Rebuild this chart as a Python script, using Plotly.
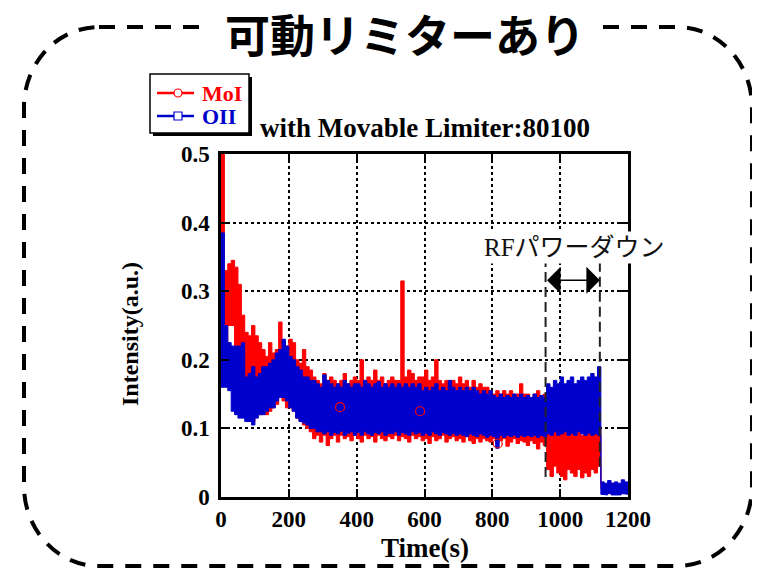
import plotly.graph_objects as go

# ---------------- data ----------------
TIME = list(range(0, 1200, 10))   # sample times (s)
STEP = 10

MOI_HI = [0.50, 0.33, 0.34, 0.345, 0.335, 0.31, 0.265, 0.24, 0.235, 0.25,
          0.235, 0.225, 0.215, 0.205, 0.225, 0.21, 0.215, 0.255, 0.225, 0.22,
          0.23, 0.225, 0.20, 0.195, 0.215, 0.19, 0.185, 0.175, 0.17, 0.165,
          0.18, 0.17, 0.175, 0.17, 0.165, 0.17, 0.18, 0.165, 0.17, 0.175,
          0.17, 0.20, 0.17, 0.175, 0.17, 0.185, 0.17, 0.175, 0.165, 0.17,
          0.175, 0.17, 0.17, 0.315, 0.175, 0.185, 0.18, 0.17, 0.175, 0.175,
          0.185, 0.17, 0.175, 0.20, 0.17, 0.165, 0.17, 0.165, 0.17, 0.165,
          0.175, 0.165, 0.17, 0.16, 0.17, 0.16, 0.165, 0.16, 0.16, 0.155,
          0.15, 0.155, 0.15, 0.155, 0.15, 0.155, 0.15, 0.15, 0.165, 0.15,
          0.15, 0.145, 0.15, 0.155, 0.145, 0.15, 0.10, 0.095, 0.10, 0.09,
          0.10, 0.095, 0.09, 0.10, 0.095, 0.105, 0.09, 0.10, 0.095, 0.10,
          0.095, 0.10, 0.02, 0.018, 0.02, 0.019, 0.02, 0.018, 0.02, 0.019]
MOI_LO = [0.20, 0.22, 0.25, 0.25, 0.20, 0.15, 0.13, 0.12, 0.12, 0.11,
          0.12, 0.12, 0.125, 0.12, 0.125, 0.13, 0.135, 0.145, 0.14, 0.13,
          0.13, 0.125, 0.115, 0.11, 0.105, 0.10, 0.095, 0.085, 0.09, 0.08,
          0.09, 0.075, 0.085, 0.09, 0.08, 0.09, 0.085, 0.088, 0.082, 0.09,
          0.085, 0.08, 0.09, 0.085, 0.088, 0.08, 0.09, 0.085, 0.082, 0.088,
          0.085, 0.09, 0.082, 0.088, 0.085, 0.08, 0.09, 0.085, 0.088, 0.082,
          0.085, 0.078, 0.088, 0.082, 0.085, 0.09, 0.08, 0.085, 0.088, 0.082,
          0.085, 0.08, 0.088, 0.082, 0.078, 0.085, 0.08, 0.085, 0.082, 0.08,
          0.085, 0.078, 0.082, 0.085, 0.074, 0.08, 0.085, 0.078, 0.082, 0.08,
          0.075, 0.082, 0.078, 0.07, 0.08, 0.075, 0.04, 0.03, 0.045, 0.035,
          0.03, 0.025, 0.04, 0.035, 0.03, 0.04, 0.028, 0.035, 0.03, 0.04,
          0.035, 0.045, 0.012, 0.014, 0.012, 0.015, 0.013, 0.014, 0.012, 0.015]
OII_HI = [0.385, 0.25, 0.225, 0.22, 0.22, 0.22, 0.225, 0.175, 0.18, 0.19,
          0.175, 0.18, 0.19, 0.19, 0.195, 0.20, 0.21, 0.215, 0.23, 0.22,
          0.205, 0.20, 0.19, 0.185, 0.175, 0.175, 0.17, 0.17, 0.165, 0.16,
          0.178, 0.17, 0.165, 0.16, 0.165, 0.16, 0.17, 0.165, 0.16, 0.165,
          0.165, 0.16, 0.17, 0.165, 0.16, 0.165, 0.168, 0.16, 0.165, 0.16,
          0.165, 0.16, 0.165, 0.16, 0.165, 0.16, 0.165, 0.16, 0.165, 0.155,
          0.16, 0.155, 0.16, 0.165, 0.155, 0.16, 0.155, 0.17, 0.16, 0.155,
          0.16, 0.155, 0.16, 0.155, 0.16, 0.155, 0.15, 0.155, 0.15, 0.155,
          0.148, 0.145, 0.15, 0.145, 0.148, 0.145, 0.15, 0.145, 0.15, 0.145,
          0.148, 0.145, 0.15, 0.145, 0.148, 0.145, 0.165, 0.16, 0.17, 0.165,
          0.175, 0.165, 0.17, 0.175, 0.165, 0.17, 0.175, 0.17, 0.175, 0.18,
          0.175, 0.19, 0.022, 0.02, 0.024, 0.02, 0.022, 0.02, 0.025, 0.022]
OII_LO = [0.16, 0.16, 0.155, 0.125, 0.12, 0.115, 0.115, 0.11, 0.11, 0.105,
          0.115, 0.12, 0.12, 0.125, 0.13, 0.13, 0.14, 0.145, 0.145, 0.14,
          0.13, 0.125, 0.115, 0.11, 0.108, 0.105, 0.10, 0.10, 0.095, 0.095,
          0.092, 0.095, 0.09, 0.094, 0.092, 0.096, 0.09, 0.093, 0.095, 0.09,
          0.094, 0.09, 0.095, 0.092, 0.09, 0.094, 0.092, 0.095, 0.09, 0.093,
          0.092, 0.095, 0.09, 0.094, 0.092, 0.09, 0.095, 0.092, 0.094, 0.09,
          0.093, 0.09, 0.095, 0.092, 0.09, 0.094, 0.092, 0.09, 0.093, 0.09,
          0.092, 0.09, 0.088, 0.092, 0.09, 0.088, 0.092, 0.09, 0.087, 0.09,
          0.088, 0.071, 0.09, 0.087, 0.09, 0.088, 0.09, 0.087, 0.09, 0.088,
          0.09, 0.088, 0.09, 0.087, 0.09, 0.088, 0.092, 0.09, 0.095, 0.09,
          0.092, 0.095, 0.09, 0.093, 0.09, 0.095, 0.092, 0.09, 0.093, 0.09,
          0.092, 0.09, 0.004, 0.003, 0.005, 0.003, 0.004, 0.003, 0.005, 0.004]

MOI_MARK_T = [351, 587, 816]
MOI_MARK_V = [0.131, 0.125, 0.078]

RF_START, RF_END = 957, 1117

X_TICKS = [0, 200, 400, 600, 800, 1000, 1200]
Y_TICKS = [0, 0.1, 0.2, 0.3, 0.4, 0.5]
Y_TICK_TEXT = ["0", "0.1", "0.2", "0.3", "0.4", "0.5"]

RED = "#ff0000"
BLUE = "#0000cc"
SERIF = "Liberation Serif, Times New Roman, serif"
CJK = "Noto Sans CJK JP"


def band(times, hi, lo):
    """Closed step-shaped band: each sample spans one STEP between its max and min."""
    xs, ys = [], []
    for t, h in zip(times, hi):
        xs += [t, t + STEP]
        ys += [h, h]
    for t, l in zip(reversed(times), reversed(lo)):
        xs += [t + STEP, t]
        ys += [l, l]
    return xs, ys


# screen pixel -> paper helpers (page body has an 8px margin)
BODY = 8
PL, PR, PT, PB = 221, 628, 154, 497


def px(x):
    return (x - PL) / (PR - PL)


def py(y):
    return (PB - y) / (PB - PT)


fig = go.Figure()

mx, my = band(TIME, MOI_HI, MOI_LO)
ox, oy = band(TIME, OII_HI, OII_LO)
fig.add_trace(go.Scatter(x=mx, y=my, mode="lines", fill="toself", fillcolor=RED,
                         line=dict(color=RED, width=1), name="MoI", showlegend=False, hoverinfo="skip"))
fig.add_trace(go.Scatter(x=ox, y=oy, mode="lines", fill="toself", fillcolor=BLUE,
                         line=dict(color=BLUE, width=1), name="OII", showlegend=False, hoverinfo="skip"))
fig.add_trace(go.Scatter(x=MOI_MARK_T, y=MOI_MARK_V, mode="markers",
                         marker=dict(symbol="circle-open", size=9, color=RED, line=dict(width=1.2)),
                         showlegend=False, hoverinfo="skip"))

shapes = []
# rounded dashed frame
L, R, T, B = 24, 752, 27, 566
rx, ry, k = 75, 80, 0.5523


def P(x, y):
    return f"{px(x):.5f},{py(y):.5f}"


path = ("M " + P(L + rx, T) + " L " + P(R - rx, T) +
        " C " + P(R - rx + k * rx, T) + " " + P(R, T + ry - k * ry) + " " + P(R, T + ry) +
        " L " + P(R, B - ry) +
        " C " + P(R, B - ry + k * ry) + " " + P(R - rx + k * rx, B) + " " + P(R - rx, B) +
        " L " + P(L + rx, B) +
        " C " + P(L + rx - k * rx, B) + " " + P(L, B - ry + k * ry) + " " + P(L, B - ry) +
        " L " + P(L, T + ry) +
        " C " + P(L, T + ry - k * ry) + " " + P(L + rx - k * rx, T) + " " + P(L + rx, T) + " Z")
shapes.append(dict(type="path", xref="paper", yref="paper", path=path,
                   line=dict(color="black", width=4, dash="16px,12px"), layer="below"))
# white mask behind the big title
shapes.append(dict(type="rect", xref="paper", yref="paper", x0=px(208), x1=px(603), y0=py(14), y1=py(42),
                   fillcolor="white", line=dict(width=0), layer="below"))

# legend box with shadow
shapes.append(dict(type="rect", xref="paper", yref="paper", x0=px(153), x1=px(252), y0=py(77), y1=py(136),
                   fillcolor="black", line=dict(width=0)))
shapes.append(dict(type="rect", xref="paper", yref="paper", x0=px(150), x1=px(249), y0=py(74), y1=py(133),
                   fillcolor="white", line=dict(color="black", width=1.5)))
shapes.append(dict(type="line", xref="paper", yref="paper", x0=px(157), x1=px(194), y0=py(93), y1=py(93),
                   line=dict(color=RED, width=2.5)))
shapes.append(dict(type="circle", xref="paper", yref="paper", x0=px(174), x1=px(182), y0=py(89), y1=py(97),
                   fillcolor="white", line=dict(color=RED, width=1.2)))
shapes.append(dict(type="line", xref="paper", yref="paper", x0=px(157), x1=px(194), y0=py(116), y1=py(116),
                   line=dict(color=BLUE, width=2.5)))
shapes.append(dict(type="rect", xref="paper", yref="paper", x0=px(174), x1=px(182), y0=py(112), y1=py(120),
                   fillcolor="white", line=dict(color=BLUE, width=1.2)))

# RF power-down markers
shapes.append(dict(type="line", xref="x", yref="y", x0=RF_START, x1=RF_START, y0=0.029, y1=0.341,
                   line=dict(color="#222", width=2, dash="10px,5px")))
shapes.append(dict(type="line", xref="x", yref="y", x0=RF_END, x1=RF_END, y0=0.044, y1=0.341,
                   line=dict(color="#222", width=2, dash="10px,5px")))

annotations = [
    dict(text="可動リミターあり", xref="paper", yref="paper", x=px(405), y=py(33), showarrow=False,
         font=dict(family=CJK, size=45, color="black", weight="bold"), borderpad=0,
         xanchor="center", yanchor="middle"),
    dict(text="with Movable Limiter:80100", xref="paper", yref="paper", x=px(425), y=py(128), showarrow=False,
         font=dict(family=SERIF, size=27, color="black", weight="bold"), xanchor="center", yanchor="middle"),
    dict(text="MoI", xref="paper", yref="paper", x=px(200), y=py(93), showarrow=False,
         font=dict(family=SERIF, size=22, color=RED, weight="bold"), xanchor="left", yanchor="middle"),
    dict(text="OII", xref="paper", yref="paper", x=px(200), y=py(117), showarrow=False,
         font=dict(family=SERIF, size=22, color=BLUE, weight="bold"), xanchor="left", yanchor="middle"),
    dict(text="Intensity(a.u.)", xref="paper", yref="paper", x=px(130), y=py(334), showarrow=False,
         textangle=-90, font=dict(family=SERIF, size=24, color="black", weight="bold"),
         xanchor="center", yanchor="middle"),
    dict(text="Time(s)", xref="paper", yref="paper", x=px(425), y=py(548), showarrow=False,
         font=dict(family=SERIF, size=27, color="black", weight="bold"), xanchor="center", yanchor="middle"),
    dict(text="RFパワーダウン", xref="paper", yref="paper", x=px(574), y=py(247), showarrow=False,
         font=dict(family=SERIF + ", " + CJK, size=25, color="#111"), bgcolor="white", borderpad=2,
         xanchor="center", yanchor="middle"),
    dict(text="", x=RF_END, y=0.316, ax=RF_START, ay=0.316, xref="x", yref="y", axref="x", ayref="y",
         showarrow=True, arrowhead=1, startarrowhead=1, arrowside="end+start", arrowsize=3,
         startarrowsize=3, arrowwidth=1.5, arrowcolor="black"),
]

axis_common = dict(showline=True, linewidth=2.5, linecolor="black", mirror="ticks",
                   ticks="inside", ticklen=8, tickwidth=2, tickcolor="black",
                   showgrid=True, gridcolor="black", gridwidth=1.5, griddash="3px,3px",
                   zeroline=False,
                   tickfont=dict(family=SERIF, size=23, color="black", weight="bold"))

fig.update_layout(
    width=760, height=574,
    margin=dict(l=PL - BODY, r=760 - PR + BODY, t=PT - BODY, b=574 - PB + BODY),
    paper_bgcolor="white", plot_bgcolor="white",
    showlegend=False,
    xaxis=dict(range=[0, 1200], tickvals=X_TICKS, **axis_common),
    yaxis=dict(range=[0, 0.5], tickvals=Y_TICKS, ticktext=Y_TICK_TEXT, ticklabelstandoff=4,
               **axis_common),
    shapes=shapes, annotations=annotations,
)

fig.write_html("out.html")
